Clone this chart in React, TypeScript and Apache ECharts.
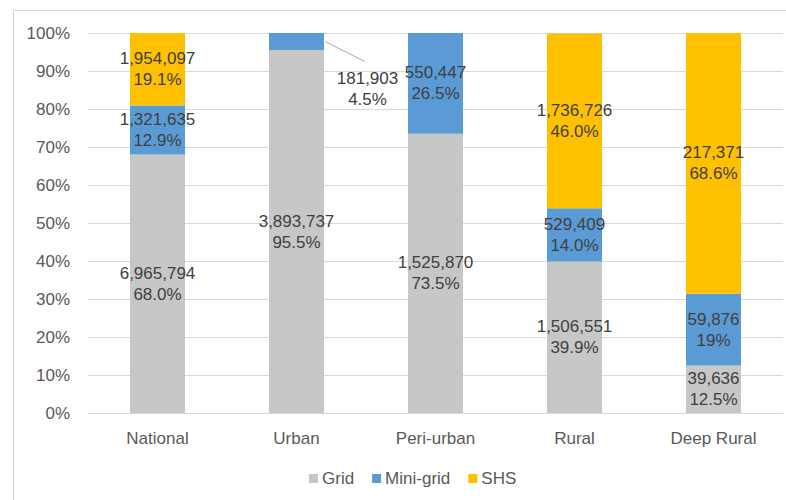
import React, { useEffect, useRef } from "react";
import * as echarts from "echarts";

const categories = ["National", "Urban", "Peri-urban", "Rural", "Deep Rural"];
const seriesNames = ["Grid", "Mini-grid", "SHS"];
const gridPct = [68.0, 95.5, 73.5, 39.9, 12.5];
const miniPct = [12.9, 4.5, 26.5, 14.0, 18.9];
const shsPct = [19.1, 0, 0, 46.0, 68.6];
const gridCount = ["6,965,794", "3,893,737", "1,525,870", "1,506,551", "39,636"];
const miniCount = ["1,321,635", "181,903", "550,447", "529,409", "59,876"];
const shsCount = ["1,954,097", "", "", "1,736,726", "217,371"];
const gridPctLabel = ["68.0%", "95.5%", "73.5%", "39.9%", "12.5%"];
const miniPctLabel = ["12.9%", "4.5%", "26.5%", "14.0%", "19%"];
const shsPctLabel = ["19.1%", "", "", "46.0%", "68.6%"];
const yTicks = [0, 10, 20, 30, 40, 50, 60, 70, 80, 90, 100];
// the one label placed outside its bar (Urban, Mini-grid)
const calloutIndex = 1;

const colors = ["#C7C7C7", "#5B9BD5", "#FFC000"];
const FONT = "'Liberation Sans', Arial, Helvetica, sans-serif";
const TEXT = "#404040";
const BAR_W = 55;

export default function App() {
  const ref = useRef<HTMLDivElement>(null);
  useEffect(() => {
    document.body.style.margin = "0";
    if (!ref.current) return;
    const chart = echarts.init(ref.current, undefined, { renderer: "svg" });
    const pcts = [gridPct, miniPct, shsPct];
    const counts = [gridCount, miniCount, shsCount];
    const pctLabels = [gridPctLabel, miniPctLabel, shsPctLabel];
    const series: any[] = seriesNames.map((name, si) => ({
      name,
      type: "bar",
      stack: "total",
      barWidth: BAR_W,
      itemStyle: { color: colors[si] },
      data: pcts[si],
      label: {
        show: true,
        position: "inside",
        color: TEXT,
        fontSize: 17,
        fontFamily: FONT,
        lineHeight: 21,
        formatter: (p: any) =>
          p.value > 0 ? `${counts[si][p.dataIndex]}\n${pctLabels[si][p.dataIndex]}` : "",
      },
      labelLayout: (params: any) => {
        if (params.seriesIndex === 1 && params.dataIndex === calloutIndex) {
          return { dx: 71, dy: 47 };
        }
        return {};
      },
    }));
    // leader line for the callout label, positioned through the axes
    const calloutMid = gridPct[calloutIndex] + miniPct[calloutIndex] / 2;
    series.push({
      type: "custom",
      name: "leader",
      silent: true,
      z: 5,
      data: [[calloutIndex, calloutMid]],
      renderItem: (params: any, api: any) => {
        const p = api.coord([api.value(0), api.value(1)]);
        const x0 = p[0] + BAR_W / 2 + 1;
        return {
          type: "line",
          shape: { x1: x0, y1: p[1], x2: x0 + 40, y2: p[1] + 20 },
          style: { stroke: "#A6A6A6", lineWidth: 1 },
        };
      },
    });
    chart.setOption({
      animation: false,
      backgroundColor: "#ffffff",
      textStyle: { fontFamily: FONT },
      graphic: [
        {
          type: "rect",
          shape: { x: 13.5, y: 10.5, width: 800, height: 520 },
          style: { fill: "none", stroke: "#D0D0D0", lineWidth: 1 },
          silent: true,
          z: -10,
        },
      ],
      grid: { left: 88, right: 3, top: 33, bottom: 87, containLabel: false },
      legend: {
        left: 304,
        top: 465,
        itemWidth: 9,
        itemHeight: 9,
        itemGap: 18,
        icon: "rect",
        textStyle: { color: "#595959", fontSize: 17, fontFamily: FONT, padding: [0, 0, 0, -1] },
        data: seriesNames,
      },
      xAxis: {
        type: "category",
        data: categories,
        axisTick: { show: false },
        axisLine: { lineStyle: { color: "#D9D9D9" } },
        axisLabel: { color: "#595959", fontSize: 17, fontFamily: FONT, margin: 17 },
      },
      yAxis: {
        type: "value",
        min: yTicks[0],
        max: yTicks[yTicks.length - 1],
        interval: 10,
        axisLabel: { color: "#595959", fontSize: 17, fontFamily: FONT, margin: 18, formatter: "{value}%" },
        splitLine: { lineStyle: { color: "#D9D9D9" } },
        axisLine: { show: false },
        axisTick: { show: false },
      },
      series,
    });
    return () => chart.dispose();
  }, []);
  return <div ref={ref} style={{ width: 786, height: 500 }} />;
}
